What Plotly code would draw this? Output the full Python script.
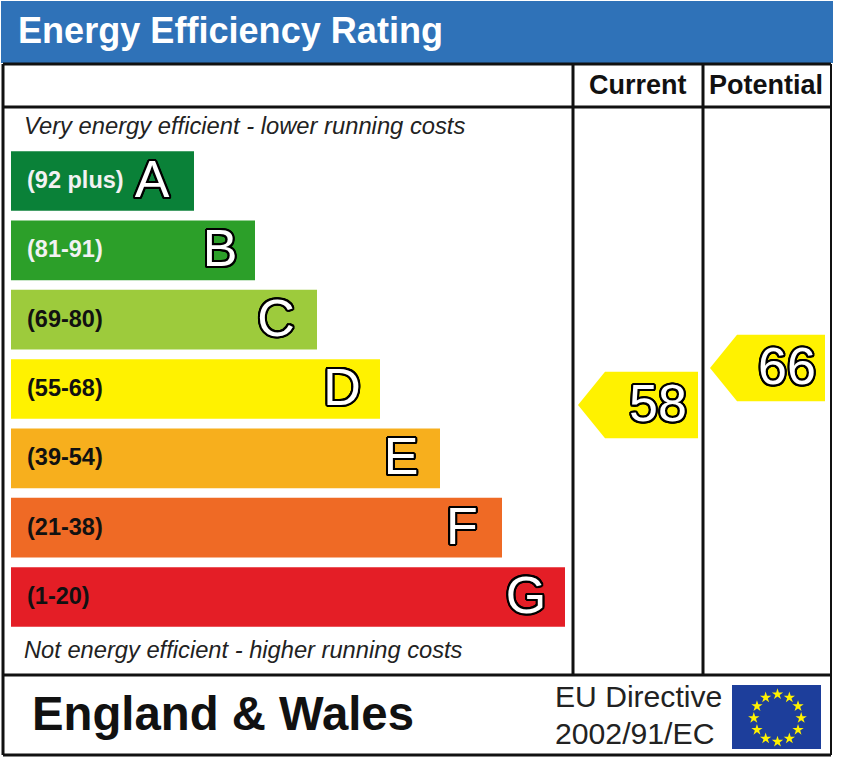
import plotly.graph_objects as go

# ---- data ----
bands = ["A", "B", "C", "D", "E", "F", "G"]
band_labels = ["(92 plus)", "(81-91)", "(69-80)", "(55-68)", "(39-54)", "(21-38)", "(1-20)"]
band_lengths = [183, 244, 306, 369, 429, 491, 554]
band_colours = ["#0A8138", "#2C9F29", "#9DCB3C", "#FFF200", "#F7AF1D", "#EF6A25", "#E41E26"]
label_colours = ["#F2F2F2", "#F2F2F2", "#111111", "#111111", "#111111", "#111111", "#111111"]
ratings = [58, 66]
rating_names = ["Current", "Potential"]
flag_star_angles = [0, 30, 60, 90, 120, 150, 180, 210, 240, 270, 300, 330]

W, H = 842, 760
FONT = "Liberation Sans"
OUTLINE = ",".join(f"{dx}px {dy}px 0 #000000" for dx, dy in
                   [(-2, 0), (2, 0), (0, -2), (0, 2), (-1.5, -1.5), (1.5, -1.5), (-1.5, 1.5), (1.5, 1.5),
                    (-2, -1), (2, -1), (-2, 1), (2, 1), (-1, -2), (1, -2), (-1, 2), (1, 2)])
LETTER_INSET = [42, 35, 41, 38, 39, 40, 39]


def px(x):
    return x / W


def py(y):
    return 1 - y / H


fig = go.Figure()

# energy bands on a category axis
fig.add_trace(go.Bar(y=bands, x=band_lengths, orientation="h", width=0.86,
                     marker=dict(color=band_colours, line=dict(width=0)),
                     hoverinfo="skip", showlegend=False))
# slightly shifted overlay category axes carry the band texts
fig.add_trace(go.Scatter(y=bands, x=[16] * 7, mode="text", text=band_labels, yaxis="y3",
                         textposition="middle right",
                         textfont=dict(family=FONT, size=23.5, color=label_colours, weight="bold"),
                         hoverinfo="skip", showlegend=False))
fig.add_trace(go.Scatter(y=bands, x=[v - d for v, d in zip(band_lengths, LETTER_INSET)], mode="text",
                         text=bands, yaxis="y4", textposition="middle center",
                         textfont=dict(family=FONT, size=52, color="white", shadow=OUTLINE),
                         hoverinfo="skip", showlegend=False))

# rating pointers on a numeric rating axis (yaxis2)
ARROW_LEFT = [567, 699]
ARROW_RIGHT = [687, 814]
TEXT_INSET = [40, 38]
ARROW_TIP = 27
HALF = 7.2
for value, left, right, inset in zip(ratings, ARROW_LEFT, ARROW_RIGHT, TEXT_INSET):
    fig.add_trace(go.Scatter(
        x=[left, left + ARROW_TIP, right, right, left + ARROW_TIP, left],
        y=[value, value + HALF, value + HALF, value - HALF, value - HALF, value],
        yaxis="y2", mode="lines", fill="toself", fillcolor="#FFF200",
        line=dict(width=0), hoverinfo="skip", showlegend=False))
    fig.add_trace(go.Scatter(
        x=[right - inset], y=[value - 0.65], yaxis="y2", mode="text", text=[str(value)],
        textposition="middle center",
        textfont=dict(family=FONT, size=52, color="white", shadow=OUTLINE),
        hoverinfo="skip", showlegend=False))

# stars of the flag on a polar subplot
fig.add_trace(go.Scatterpolar(r=[1] * 12, theta=flag_star_angles, mode="markers",
                              marker=dict(symbol="star", size=8.5, color="#FFF200", line=dict(width=0)),
                              hoverinfo="skip", showlegend=False))


def line(x0, y0, x1, y1, w=3):
    return dict(type="line", xref="paper", yref="paper", x0=px(x0), y0=py(y0), x1=px(x1), y1=py(y1),
                line=dict(color="#111111", width=w), layer="above")


def rect(x0, y0, x1, y1, colour):
    return dict(type="rect", xref="paper", yref="paper", x0=px(x0), y0=py(y0), x1=px(x1), y1=py(y1),
                fillcolor=colour, line=dict(width=0), layer="below")


shapes = [
    rect(1, 1, 833, 63, "#2F72B8"),
    rect(732, 685, 821, 749, "#1D3E9B"),
    line(3, 64, 831, 64), line(3, 107, 831, 107), line(3, 675, 831, 675), line(3, 755, 831, 755),
    line(3, 64, 3, 755), line(831, 64, 831, 755, 2),
    line(573, 64, 573, 675), line(703, 64, 703, 675),
]


def note(x, y, text, size, anchor="left", colour="#111111", bold=False, italic=False):
    return dict(xref="paper", yref="paper", x=px(x), y=py(y), text=text, showarrow=False,
                xanchor=anchor, yanchor="middle", borderpad=0,
                font=dict(family=FONT, size=size, color=colour,
                          weight="bold" if bold else "normal",
                          style="italic" if italic else "normal"))


annotations = [
    note(17, 30, "Energy Efficiency Rating", 36.1, colour="white", bold=True),
    note(638, 85, rating_names[0], 27, "center", bold=True),
    note(766, 85, rating_names[1], 27, "center", bold=True),
    note(23, 126, "Very energy efficient - lower running costs", 23.75, colour="#222222", italic=True),
    note(23, 650, "Not energy efficient - higher running costs", 23.7, colour="#222222", italic=True),
    note(31, 713, "England &amp; Wales", 47.3, bold=True),
    note(554, 696, "EU Directive", 30.1, colour="#222222"),
    note(553.5, 733, "2002/91/EC", 30.2, colour="#222222"),
]

PITCH = 69.33


def band_range(shift):
    return [(H - 181 - shift) / PITCH, (-181 - shift) / PITCH]


def band_axis(shift):
    return dict(type="category", categoryorder="array", categoryarray=bands, overlaying="y",
                range=band_range(shift), visible=False, fixedrange=True)


fig.update_layout(
    width=W, height=H, margin=dict(l=0, r=0, t=0, b=0, pad=0),
    paper_bgcolor="white", plot_bgcolor="rgba(0,0,0,0)", showlegend=False,
    xaxis=dict(range=[-11, W - 11], visible=False, domain=[0, 1], fixedrange=True),
    yaxis=dict(type="category", categoryorder="array", categoryarray=bands,
               range=band_range(0), visible=False, domain=[0, 1], fixedrange=True),
    yaxis2=dict(overlaying="y", range=[58 - (H - 405) / 4.625, 58 + 405 / 4.625], visible=False, fixedrange=True),
    yaxis3=band_axis(1),
    yaxis4=band_axis(3),
    polar=dict(domain=dict(x=[px(733), px(822)], y=[py(750), py(686)]),
               bgcolor="rgba(0,0,0,0)",
               radialaxis=dict(visible=False, range=[0, 1.35]),
               angularaxis=dict(visible=False, direction="clockwise", rotation=90)),
    shapes=shapes, annotations=annotations,
)

fig.write_html("out.html", config=dict(displayModeBar=False),
               post_script="document.body.style.margin='0';window.dispatchEvent(new Event('resize'));")
